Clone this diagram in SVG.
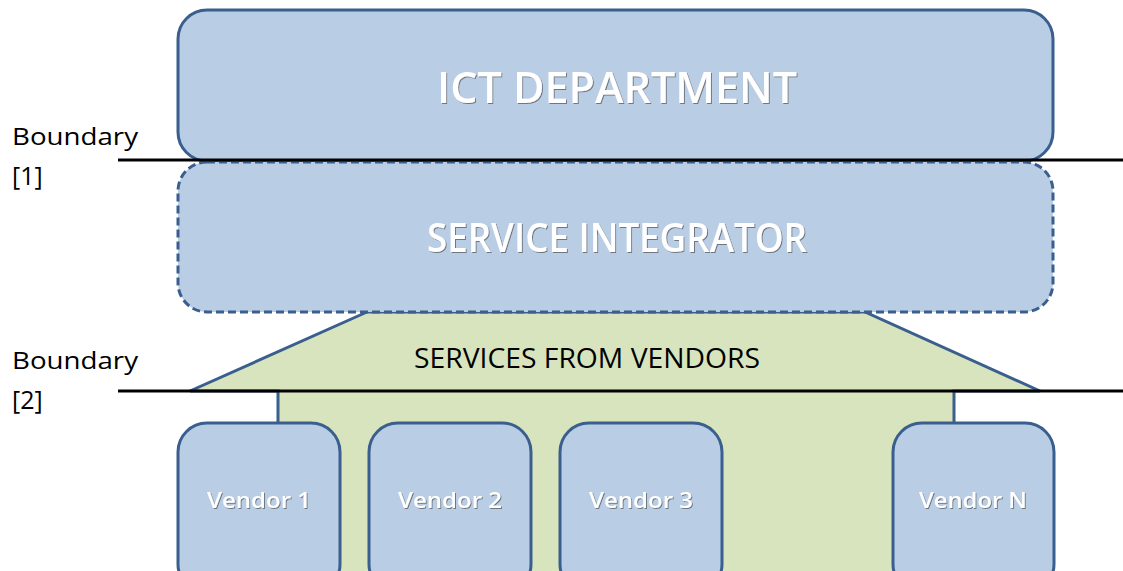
<svg xmlns="http://www.w3.org/2000/svg" width="1123" height="571" viewBox="0 0 1123 571">
  <defs>
    <filter id="txtShadow" x="-5%" y="-20%" width="110%" height="140%">
      <feDropShadow dx="1" dy="1" stdDeviation="0.6" flood-color="#3a3a3a" flood-opacity="0.6"/>
    </filter>
  </defs>
  <style>
    .box { fill: #B9CDE5; stroke: #3A5F8E; stroke-width: 3; }
    .dashed { stroke-dasharray: 8 4; }
    .services { fill: #D7E4BD; stroke: #3A5F8E; stroke-width: 3; stroke-linejoin: miter; }
    .boundary { stroke: #000; stroke-width: 3; }
    .lbl { font-family: "Open Sans", "Noto Sans", "Liberation Sans", sans-serif; }
    .white { fill: #fff; filter: url(#txtShadow); text-anchor: middle; font-weight: 600; }
    .dark { fill: #000; font-weight: 500; }
  </style>

  <!-- area of services delivered by vendors -->
  <g id="services-from-vendors">
    <path class="services" d="M367,312 L190,391 L278,391 L278,590 L954,590 L954,391 L1040,391 L865,312 Z"/>
    <text class="lbl dark" x="587" y="368" font-size="28" text-anchor="middle" textLength="346" lengthAdjust="spacingAndGlyphs">SERVICES FROM VENDORS</text>
  </g>

  <g id="ict-department">
    <rect class="box" x="178" y="10" width="875" height="151" rx="29" ry="29"/>
    <text class="lbl white" x="617" y="103" font-size="43" textLength="360" lengthAdjust="spacingAndGlyphs">ICT DEPARTMENT</text>
  </g>

  <g id="service-integrator">
    <rect class="box dashed" x="178" y="162" width="875" height="150" rx="29" ry="29"/>
    <text class="lbl white" x="617" y="252" font-size="40" textLength="380" lengthAdjust="spacingAndGlyphs">SERVICE INTEGRATOR</text>
  </g>

  <g id="vendor-1">
    <rect class="box" x="178" y="423" width="162" height="170" rx="29" ry="29"/>
    <text class="lbl white" x="259" y="508" font-size="22" textLength="104" lengthAdjust="spacingAndGlyphs">Vendor 1</text>
  </g>
  <g id="vendor-2">
    <rect class="box" x="369" y="423" width="162" height="170" rx="29" ry="29"/>
    <text class="lbl white" x="450" y="508" font-size="22" textLength="104" lengthAdjust="spacingAndGlyphs">Vendor 2</text>
  </g>
  <g id="vendor-3">
    <rect class="box" x="560" y="423" width="162" height="170" rx="29" ry="29"/>
    <text class="lbl white" x="641" y="508" font-size="22" textLength="104" lengthAdjust="spacingAndGlyphs">Vendor 3</text>
  </g>
  <g id="vendor-n">
    <rect class="box" x="893" y="423" width="161" height="170" rx="29" ry="29"/>
    <text class="lbl white" x="973" y="508" font-size="22" textLength="108" lengthAdjust="spacingAndGlyphs">Vendor N</text>
  </g>

  <!-- boundary lines with their labels -->
  <g id="connectors">
    <line class="boundary" x1="118" y1="160" x2="1123" y2="160"/>
    <line class="boundary" x1="118" y1="391" x2="1123" y2="391"/>
  </g>
  <g id="boundary-labels">
    <text class="lbl dark" x="12" y="145" font-size="24" textLength="126" lengthAdjust="spacingAndGlyphs">Boundary</text>
    <text class="lbl dark" x="12" y="185" font-size="25">[1]</text>
    <text class="lbl dark" x="12" y="369" font-size="24" textLength="126" lengthAdjust="spacingAndGlyphs">Boundary</text>
    <text class="lbl dark" x="12" y="409" font-size="25">[2]</text>
  </g>
</svg>
